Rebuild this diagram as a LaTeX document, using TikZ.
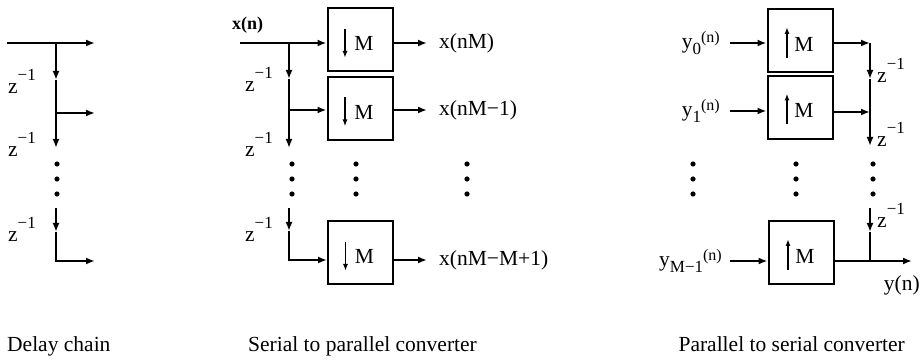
\documentclass[tikz,border=0pt]{standalone}
\usepackage{fontspec}
\setmainfont{Liberation Serif}
\usetikzlibrary{arrows.meta}

\newcommand{\zinv}{z\raisebox{0.62em}{\fontsize{17}{17}\selectfont −1}}
\newcommand{\ysig}[1]{y\raisebox{-0.28em}{\fontsize{17}{17}\selectfont #1}\raisebox{0.3em}{\fontsize{16}{16}\selectfont (n)}}

\tikzset{
  wire/.style={line width=1.9pt},
  sig/.style={wire, -{Latex[length=9pt,width=7pt]}},
  ratebox/.style={draw, line width=2pt, minimum width=65pt, minimum height=63pt, inner sep=0pt},
  lbl/.style={inner sep=0pt, font=\fontsize{21.5}{24}\selectfont},
  rate/.style={line width=1.4pt, -{Latex[length=7pt,width=5pt]}},
}

\begin{document}
\begin{tikzpicture}[x=1pt, y=-1pt]
    \useasboundingbox (0,0) rectangle (921,363);

    % Delay chain
    \coordinate (d0) at (7,43);
    \coordinate (dj1) at (56,43);
    \coordinate (dz1) at (56,80);
    \coordinate (dj2) at (56,113);
    \coordinate (dz2) at (56,148);
    \coordinate (dj3) at (56,208);
    \coordinate (dz3) at (56,232);
    \coordinate (dj4) at (56,261);
    \coordinate (dout1) at (95,43);
    \coordinate (dout2) at (95,113);
    \coordinate (dout3) at (95,261);

    \draw[sig] (d0) -- (dout1);
    \draw[sig] (dj1) -- (dz1);
    \draw[wire] (dz1) -- (dj2);
    \draw[sig] (dj2) -- (dout2);
    \draw[sig] (dj2) -- (dz2);
    \draw[sig] (dj3) -- (dz3);
    \draw[sig] (dz3) -- (dj4) -- (dout3);

    \node[lbl, anchor=base west] (dzl1) at (8,94) {\zinv};
    \node[lbl, anchor=base west] (dzl2) at (8,157) {\zinv};
    \node[lbl, anchor=base west] (dzl3) at (8,242) {\zinv};

    % Serial to parallel converter
    \node[ratebox] (s1) at (360,40) {};
    \node[ratebox] (s2) at (360,108.5) {};
    \node[ratebox] (s3) at (360.5,253) {};

    \node[lbl, anchor=base west, font=\bfseries\fontsize{18}{20}\selectfont] (xin) at (232,30) {x(n)};

    \coordinate (sin) at (240,43);
    \coordinate (sj1) at (289,43);
    \coordinate (sz1) at (289,79);
    \coordinate (sj2) at (289,110);
    \coordinate (sz2) at (289,148);
    \coordinate (sj3) at (289,208);
    \coordinate (sz3) at (289,231);
    \coordinate (sj4) at (289,260);

    \draw[sig] (sin) -- (sin -| s1.west);
    \draw[sig] (sj1) -- (sz1);
    \draw[wire] (sz1) -- (sj2);
    \draw[sig] (sj2) -- (sj2 -| s2.west);
    \draw[sig] (sj2) -- (sz2);
    \draw[sig] (sj3) -- (sz3);
    \draw[sig] (sz3) -- (sj4) -- (sj4 -| s3.west);

    \node[lbl, anchor=base west] (szl1) at (245,92) {\zinv};
    \node[lbl, anchor=base west] (szl2) at (245,157) {\zinv};
    \node[lbl, anchor=base west] (szl3) at (245,242) {\zinv};

    \node[lbl, anchor=west, inner xsep=12pt] (so1) at (427,43) {x(nM)};
    \node[lbl, anchor=west, inner xsep=12pt] (so2) at (427,110) {x(nM−1)};
    \node[lbl, anchor=west, inner xsep=12pt] (so3) at (427,260) {x(nM−M+1)};

    \draw[sig] (sin -| s1.east) -- (so1.west);
    \draw[sig] (sj2 -| s2.east) -- (so2.west);
    \draw[sig] (sj4 -| s3.east) -- (so3.west);

    % Downsamplers
    \foreach \b in {s1,s2,s3} {
        \draw[rate] ([xshift=-15pt, yshift=11pt]\b.center) -- ++(0,29);
        \node[lbl] (\b m) at ([xshift=4pt, yshift=-3.5pt]\b.center) {M};
    }

    % Parallel to serial converter
    \node[ratebox] (p1) at (800,41) {};
    \node[ratebox] (p2) at (800,107.5) {};
    \node[ratebox] (p3) at (801,253) {};

    \node[lbl, anchor=east, inner xsep=10pt] (y0) at (730,43) {\ysig{0}};
    \node[lbl, anchor=east, inner xsep=10pt] (y1) at (730,111) {\ysig{1}};
    \node[lbl, anchor=east, inner xsep=8pt] (ym) at (730,261) {\ysig{M−1}};

    \draw[sig] (y0.east) -- (y0.east -| p1.west);
    \draw[sig] (y1.east) -- (y1.east -| p2.west);
    \draw[sig] (ym.east) -- (ym.east -| p3.west);

    \coordinate (pj1) at (870,43);
    \coordinate (pz1) at (870,79);
    \coordinate (pj2) at (870,112);
    \coordinate (pz2) at (870,146);
    \coordinate (pj3) at (870,208);
    \coordinate (pz3) at (870,232);
    \coordinate (pj4) at (870,261);
    \coordinate (pout) at (912,261);

    \draw[sig] (pj1 -| p1.east) -- (pj1);
    \draw[sig] (pj1) -- (pz1);
    \draw[wire] (pz1) -- (pj2);
    \draw[sig] (pj2 -| p2.east) -- (pj2);
    \draw[sig] (pj2) -- (pz2);
    \draw[sig] (pj3) -- (pz3);
    \draw[wire] (pz3) -- (pj4);
    \draw[sig] (pj4 -| p3.east) -- (pout);

    \node[lbl, anchor=base west] (pzl1) at (877,83) {\zinv};
    \node[lbl, anchor=base west] (pzl2) at (877,147) {\zinv};
    \node[lbl, anchor=base west] (pzl3) at (877,228) {\zinv};
    \node[lbl, anchor=base east] (yout) at (920,291) {y(n)};

    % Upsamplers
    \foreach \b in {p1,p2,p3} {
        \draw[rate] ([xshift=-13pt, yshift=-17pt]\b.center) -- ++(0,-31);
        \node[lbl] (\b m) at ([xshift=4pt, yshift=-3pt]\b.center) {M};
    }

    % Dots
    \foreach \x in {57,292,356,467,693,796,873}
        \foreach \y in {164,179,194}
            \fill (\x,\y) circle (2.6);

    % Captions
    \node[lbl, anchor=base west] (cap1) at (7,352) {Delay chain};
    \node[lbl, anchor=base west] (cap2) at (248,352) {Serial to parallel converter};
    \node[lbl, anchor=base east] (cap3) at (905,352) {Parallel to serial converter};

\end{tikzpicture}
\end{document}
